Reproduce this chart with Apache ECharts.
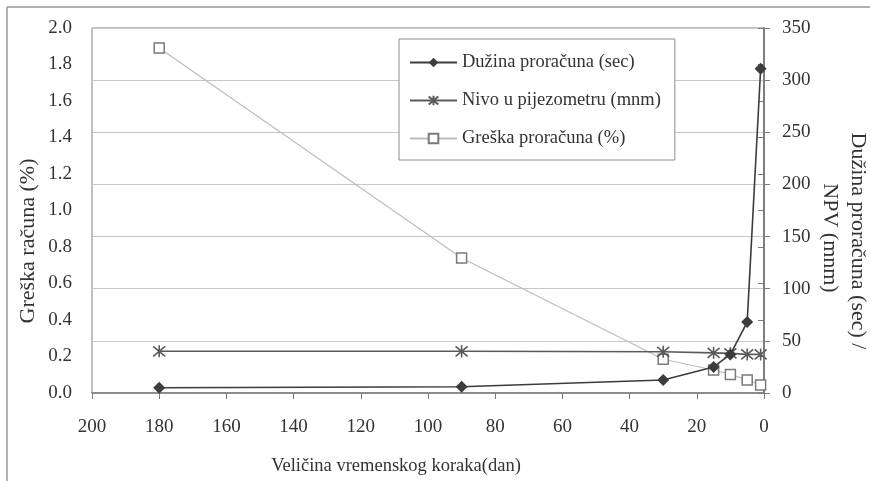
<!DOCTYPE html>
<html>
<head>
<meta charset="utf-8">
<script src="https://cdn.jsdelivr.net/npm/echarts@6/dist/echarts.min.js"></script>
<style>
  html, body { margin: 0; padding: 0; background: #fff; }
  #chart { width: 870px; height: 481px; }
</style>
</head>
<body>
<div id="chart"></div>
<script>
// time step (days) on the x axis
const steps = [180, 90, 30, 15, 10, 5, 1]
// right axis: run length (sec) and piezometer level (mnm)
const durationSec = [5, 6, 12.5, 25, 37, 68, 311]
const pieLevel = [40, 40, 39.5, 38.5, 38, 37, 37]
// left axis: calculation error (%)
const errorPct = [1.89, 0.74, 0.185, 0.126, 0.102, 0.071, 0.044]

const seriesNames = ['Dužina proračuna (sec)', 'Nivo u pijezometru (mnm)', 'Greška proračuna (%)']
const leftTicks = ['0.0', '0.2', '0.4', '0.6', '0.8', '1.0', '1.2', '1.4', '1.6', '1.8', '2.0']
const leftName = 'Greška računa (%)'
const rightName = ['Dužina proračuna (sec) /', 'NPV (mnm)']

const font = 'Liberation Serif'
const asterisk = 'path://M0,0L10,10M10,0L0,10M5,-1L5,11'

function pairs(ys) {
  return steps.map((x, i) => [x, ys[i]])
}

function sideText(text, x, y, rotation) {
  return {
    type: 'text',
    x: x,
    y: y,
    rotation: rotation,
    style: {
      text: text,
      fontFamily: font,
      fontSize: 22,
      fill: '#333',
      align: 'center',
      verticalAlign: 'middle'
    }
  }
}

const chart = echarts.init(document.getElementById('chart'))
chart.setOption({
  backgroundColor: '#fff',
  animation: false,
  textStyle: { fontFamily: font },
  grid: {
    left: 92,
    right: 106,
    top: 28,
    bottom: 88,
    outerBoundsMode: 'none',
    containLabel: false,
    show: true,
    borderColor: '#808080',
    borderWidth: 1
  },
  legend: {
    orient: 'vertical',
    left: 399,
    top: 39,
    padding: [14, 14, 12, 10],
    itemGap: 19,
    itemWidth: 47,
    itemHeight: 12,
    borderColor: '#8c8c8c',
    borderWidth: 1,
    backgroundColor: '#fff',
    textStyle: { fontFamily: font, fontSize: 18.5, color: '#333' },
    data: seriesNames
  },
  xAxis: {
    type: 'value',
    inverse: true,
    min: 0,
    max: 200,
    interval: 20,
    name: 'Veličina vremenskog koraka(dan)',
    nameLocation: 'middle',
    nameGap: 64,
    nameTextStyle: { fontFamily: font, fontSize: 18.5, color: '#333', padding: [0, 64, 0, 0] },
    axisLine: { lineStyle: { color: '#7a7a7a', width: 1.5 } },
    axisTick: { show: true, length: 6, lineStyle: { color: '#7a7a7a', width: 1 } },
    axisLabel: { fontFamily: font, fontSize: 19, color: '#333', margin: 25 },
    splitLine: { show: false }
  },
  yAxis: [
    {
      type: 'value',
      min: 0,
      max: 2,
      interval: 0.2,
      position: 'left',
      axisLine: { show: true, lineStyle: { color: '#7a7a7a', width: 1.5 } },
      axisTick: { show: true, length: 6, lineStyle: { color: '#7a7a7a', width: 1 } },
      axisLabel: {
        fontFamily: font, fontSize: 19, color: '#333', margin: 20,
        formatter: (v) => leftTicks[Math.round(v / 0.2)]
      },
      splitLine: { show: false }
    },
    {
      type: 'value',
      min: 0,
      max: 350,
      interval: 50,
      position: 'right',
      axisLine: { show: true, lineStyle: { color: '#7a7a7a', width: 1.5 } },
      axisTick: { show: true, length: 6, lineStyle: { color: '#7a7a7a', width: 1 } },
      axisLabel: { fontFamily: font, fontSize: 19, color: '#333', margin: 18 },
      splitLine: { show: true, lineStyle: { color: '#c8c8c8', width: 1.2 } }
    }
  ],
  graphic: [
    { type: 'line', shape: { x1: 7, y1: 7, x2: 870, y2: 7 }, style: { stroke: '#9a9a9a', lineWidth: 1.5 } },
    { type: 'line', shape: { x1: 7, y1: 7, x2: 7, y2: 481 }, style: { stroke: '#9a9a9a', lineWidth: 1.5 } },
    sideText(leftName, 28, 241, Math.PI / 2),
    sideText(rightName[0], 858, 241, -Math.PI / 2),
    sideText(rightName[1], 830, 238, -Math.PI / 2)
  ],
  series: [
    {
      name: seriesNames[0],
      type: 'line',
      yAxisIndex: 1,
      data: pairs(durationSec),
      symbol: 'diamond',
      symbolSize: 12,
      z: 4,
      lineStyle: { color: '#3c3c3c', width: 1.6 },
      itemStyle: { color: '#3c3c3c' }
    },
    {
      name: seriesNames[1],
      type: 'line',
      yAxisIndex: 1,
      data: pairs(pieLevel),
      symbol: asterisk,
      symbolSize: 12,
      z: 3,
      lineStyle: { color: '#5a5a5a', width: 1.6 },
      itemStyle: { color: 'none', borderColor: '#5a5a5a', borderWidth: 1.6 }
    },
    {
      name: seriesNames[2],
      type: 'line',
      yAxisIndex: 0,
      data: pairs(errorPct),
      symbol: 'rect',
      symbolSize: 10,
      z: 2,
      lineStyle: { color: '#bdbdbd', width: 1.2 },
      itemStyle: { color: '#fff', borderColor: '#7a7a7a', borderWidth: 1.5 }
    }
  ]
})
</script>
</body>
</html>
